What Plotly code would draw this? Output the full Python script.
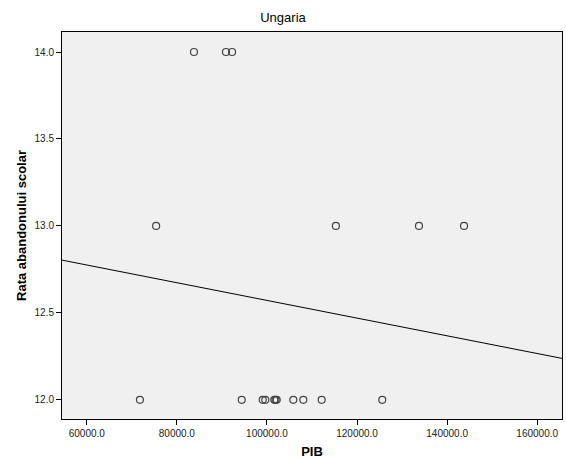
import numpy as np
import plotly.graph_objects as go

# PIB values (x) and school dropout rate (y) for Ungaria
pib = [
    83800, 90900, 92250,
    75400, 115300, 133750, 143750,
    71800, 94400, 99060, 99640, 101630, 101900, 102170,
    105850, 108070, 112150, 125600,
]
rata = [
    14.0, 14.0, 14.0,
    13.0, 13.0, 13.0, 13.0,
    12.0, 12.0, 12.0, 12.0, 12.0, 12.0, 12.0,
    12.0, 12.0, 12.0, 12.0,
]

x_range = [54500, 165500]
y_range = [11.89, 14.115]
x_ticks = [60000, 80000, 100000, 120000, 140000, 160000]
y_ticks = [12.0, 12.5, 13.0, 13.5, 14.0]

# least-squares fit line across the full x range
slope, intercept = np.polyfit(np.array(pib, float), np.array(rata, float), 1)
fit_x = np.array(x_range, float)
fit_y = slope * fit_x + intercept

fig = go.Figure()
fig.add_trace(go.Scatter(
    x=fit_x, y=fit_y, mode="lines",
    line=dict(color="#000000", width=1),
    hoverinfo="skip", showlegend=False,
))
fig.add_trace(go.Scatter(
    x=pib, y=rata, mode="markers",
    marker=dict(symbol="circle-open", size=7, color="#444444",
                line=dict(width=1.2, color="#444444")),
    showlegend=False,
))

font_family = "Liberation Sans, Arial, sans-serif"
axis_common = dict(
    showline=True, linecolor="#000000", linewidth=1, mirror=True,
    showgrid=False, zeroline=False,
    ticks="outside", ticklen=5, tickcolor="#000000", tickwidth=1,
    tickfont=dict(family=font_family, size=10, color="#222222"),
    tickformat=".1f",
)

fig.update_layout(
    width=566, height=459,
    margin=dict(l=62, r=4, t=32, b=40),
    paper_bgcolor="#FFFFFF",
    plot_bgcolor="#F0F0F0",
    font=dict(family=font_family, color="#000000"),
    title=dict(
        text="Ungaria", x=0.5, xref="container", xanchor="center",
        y=1 - 17 / 459, yref="container", yanchor="middle",
        font=dict(family=font_family, size=13, color="#000000"),
    ),
    xaxis=dict(
        axis_common, range=x_range, tickvals=x_ticks,
        title=dict(text="<b>PIB</b>", standoff=8,
                   font=dict(family=font_family, size=13, color="#000000")),
    ),
    yaxis=dict(
        axis_common, range=y_range, tickvals=y_ticks,
        title=dict(text="<b>Rata abandonului scolar</b>", standoff=4,
                   font=dict(family=font_family, size=13, color="#000000")),
    ),
)

fig.write_html("out.html")
